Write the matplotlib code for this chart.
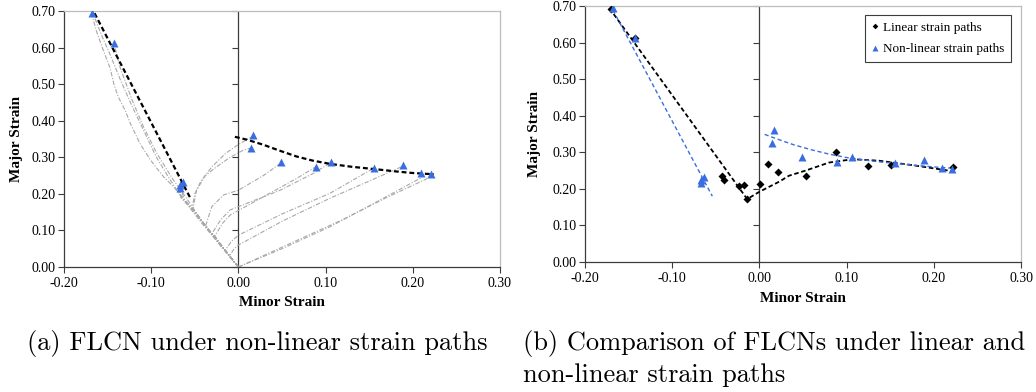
import matplotlib
matplotlib.use("Agg")
import matplotlib.pyplot as plt
import numpy as np

plt.rcParams['axes.unicode_minus'] = False

# ---------------- data ----------------
x_ticks = [-0.20, -0.10, 0.00, 0.10, 0.20, 0.30]
x_tick_labels = ['-0.20', '-0.10', '0.00', '0.10', '0.20', '0.30']
y_ticks = [0.00, 0.10, 0.20, 0.30, 0.40, 0.50, 0.60, 0.70]
y_tick_labels = ['0.00', '0.10', '0.20', '0.30', '0.40', '0.50', '0.60', '0.70']

# non-linear strain path limit strains (blue triangles)
nonlin_minor = [-0.168, -0.143, -0.064, -0.067, -0.067, 0.017, 0.014, 0.049, 0.089, 0.106, 0.155, 0.189, 0.209, 0.221]
nonlin_major = [0.694, 0.613, 0.233, 0.224, 0.217, 0.361, 0.325, 0.286, 0.274, 0.288, 0.272, 0.279, 0.258, 0.254]

# linear strain path limit strains (black diamonds)
lin_minor = [-0.170, -0.143, -0.043, -0.041, -0.023, -0.018, -0.014, 0.001, 0.0095, 0.021, 0.053, 0.088, 0.124, 0.151, 0.222]
lin_major = [0.692, 0.613, 0.235, 0.225, 0.208, 0.210, 0.171, 0.213, 0.267, 0.247, 0.235, 0.300, 0.263, 0.265, 0.261]

# FLC fit lines, panel (a)
flc_a_left_x = [-0.165, -0.055]
flc_a_left_y = [0.694, 0.188]
flc_a_right_x = [-0.004, 0.010, 0.029, 0.045, 0.067, 0.085, 0.105, 0.130, 0.155, 0.182, 0.200, 0.224]
flc_a_right_y = [0.356, 0.348, 0.334, 0.320, 0.302, 0.291, 0.282, 0.274, 0.268, 0.261, 0.257, 0.2535]

# FLC fit lines, panel (b)
flc_lin_x = [-0.172, -0.014, 0.000, 0.023, 0.034, 0.053, 0.080, 0.107, 0.137, 0.175, 0.225]
flc_lin_y = [0.694, 0.172, 0.192, 0.220, 0.236, 0.250, 0.272, 0.281, 0.277, 0.265, 0.247]
flc_nonlin_left_x = [-0.168, -0.054]
flc_nonlin_left_y = [0.689, 0.180]
flc_nonlin_right_x = [0.006, 0.023, 0.040, 0.061, 0.080, 0.099, 0.120, 0.137, 0.155, 0.175, 0.200, 0.223]
flc_nonlin_right_y = [0.349, 0.334, 0.320, 0.306, 0.295, 0.286, 0.279, 0.274, 0.270, 0.265, 0.260, 0.256]

# measured strain paths (grey dash-dot), panel (a)
path1_x = [0, -0.020, -0.040, -0.055, -0.0746, -0.086, -0.101, -0.113, -0.124, -0.130, -0.138, -0.143, -0.147, -0.155, -0.1625, -0.168]
path1_y = [0, 0.058, 0.118, 0.165, 0.220, 0.247, 0.293, 0.338, 0.393, 0.429, 0.466, 0.502, 0.543, 0.593, 0.643, 0.689]
path2_x = [0, -0.020, -0.040, -0.050, -0.065, -0.080, -0.094, -0.108, -0.122, -0.135, -0.147, -0.158, -0.166]
path2_y = [0, 0.060, 0.120, 0.150, 0.190, 0.245, 0.300, 0.370, 0.440, 0.510, 0.580, 0.640, 0.689]
path3_x = [0, -0.020, -0.040, -0.060, -0.0746, -0.0936, -0.109, -0.122, -0.136, -0.143]
path3_y = [0, 0.060, 0.118, 0.190, 0.238, 0.311, 0.384, 0.457, 0.548, 0.613]
path4_x = [0, -0.020, -0.040, -0.055, -0.062, -0.065, -0.064]
path4_y = [0, 0.060, 0.120, 0.165, 0.185, 0.205, 0.233]
path5_x = [0, -0.020, -0.040, -0.058, -0.066, -0.067]
path5_y = [0, 0.058, 0.118, 0.170, 0.190, 0.224]
path6_x = [0, -0.021, -0.042, -0.060, -0.068, -0.067]
path6_y = [0, 0.060, 0.120, 0.175, 0.200, 0.217]
path7_x = [0, -0.020, -0.040, -0.052, -0.048, -0.038, -0.025, -0.0095, 0.006, 0.014]
path7_y = [0, 0.060, 0.120, 0.160, 0.210, 0.250, 0.274, 0.300, 0.320, 0.325]
path8_x = [0, -0.020, -0.040, -0.053, -0.050, -0.043, -0.030, -0.015, 0.000, 0.017]
path8_y = [0, 0.060, 0.120, 0.163, 0.200, 0.235, 0.275, 0.310, 0.335, 0.358]
path9_x = [0, -0.020, -0.038, -0.0305, -0.017, 0.000, 0.0287, 0.048]
path9_y = [0, 0.058, 0.110, 0.165, 0.197, 0.210, 0.250, 0.283]
path10_x = [0, -0.015, -0.027, -0.018, -0.0095, 0.0287, 0.067, 0.088]
path10_y = [0, 0.045, 0.085, 0.120, 0.142, 0.192, 0.2425, 0.273]
path11_x = [0, -0.020, -0.030, -0.020, -0.0095, 0.048, 0.086, 0.105]
path11_y = [0, 0.060, 0.093, 0.130, 0.156, 0.210, 0.256, 0.284]
path12_x = [0, -0.015, -0.008, 0.000, 0.050, 0.105, 0.155]
path12_y = [0, 0.046, 0.070, 0.087, 0.145, 0.2015, 0.270]
path13_x = [0, -0.010, -0.005, 0.000, 0.050, 0.105, 0.150, 0.188]
path13_y = [0, 0.030, 0.050, 0.060, 0.125, 0.188, 0.235, 0.275]
path14_x = [0, 0.050, 0.105, 0.160, 0.2085, 0.209]
path14_y = [0, 0.050, 0.110, 0.180, 0.2425, 0.255]
path15_x = [0, 0.060, 0.120, 0.170, 0.215, 0.221]
path15_y = [0, 0.065, 0.130, 0.190, 0.240, 0.252]

paths_x = [path1_x, path2_x, path3_x, path4_x, path5_x, path6_x, path7_x, path8_x,
           path9_x, path10_x, path11_x, path12_x, path13_x, path14_x, path15_x]
paths_y = [path1_y, path2_y, path3_y, path4_y, path5_y, path6_y, path7_y, path8_y,
           path9_y, path10_y, path11_y, path12_y, path13_y, path14_y, path15_y]

caption_a = "(a) FLCN under non-linear strain paths"
caption_b1 = "(b) Comparison of FLCNs under linear and"
caption_b2 = "non-linear strain paths"

# ---------------- style ----------------
SERIF = ['Liberation Serif', 'DejaVu Serif']
CM = ['cmr10', 'DejaVu Serif']
BLUE = '#3a6ee0'
GREY_PATH = '#a8a8a8'
DARK = '#3c3c3c'
LIGHT = '#bdbdbd'

W, H = 1036, 392
fig = plt.figure(figsize=(W / 100, H / 100), dpi=100)
ax1 = fig.add_axes([64 / W, 1 - 267 / H, (500 - 64) / W, (267 - 11) / H])
ax2 = fig.add_axes([585 / W, 1 - 262 / H, (1021 - 585) / W, (262 - 6) / H])


def style_axes(ax, ylab_x, xlab_y):
    ax.set_xlim(-0.20, 0.30)
    ax.set_ylim(0.0, 0.70)
    ax.set_xticks(x_ticks)
    ax.set_xticklabels(x_tick_labels, family=SERIF, fontsize=10)
    ax.set_yticks(y_ticks)
    ax.set_yticklabels(y_tick_labels, family=SERIF, fontsize=10)
    ax.tick_params(axis='both', direction='out', length=4, width=0.8, color=DARK, pad=2)
    ax.tick_params(axis='x', pad=3)
    for s in ['left', 'bottom']:
        ax.spines[s].set_color(DARK)
        ax.spines[s].set_linewidth(0.9)
    for s in ['top', 'right']:
        ax.spines[s].set_color(LIGHT)
        ax.spines[s].set_linewidth(0.9)
    ax.axvline(0, color=DARK, lw=0.9, zorder=1)
    ax.plot(np.zeros(len(y_ticks)), y_ticks, ls='none', marker=0, ms=4, mew=0.8,
            color=DARK, zorder=1, clip_on=False)
    ax.set_xlabel('Minor Strain', family=SERIF, fontsize=11, fontweight='bold')
    ax.set_ylabel('Major Strain', family=SERIF, fontsize=11, fontweight='bold')
    ax.xaxis.set_label_coords(0.5, xlab_y)
    ax.yaxis.set_label_coords(ylab_x, 0.5)


style_axes(ax1, -0.094, -0.112)
style_axes(ax2, -0.101, -0.118)

# ---- panel (a) ----
for px, py in zip(paths_x, paths_y):
    ax1.plot(px, py, color=GREY_PATH, lw=0.8, ls=(0, (4, 1.5, 1, 1.5)), zorder=2)
ax1.plot(flc_a_left_x, flc_a_left_y, color='black', lw=1.6, ls=(0, (2.2, 1.3)), zorder=3)
ax1.plot(flc_a_right_x, flc_a_right_y, color='black', lw=1.6, ls=(0, (2.2, 1.3)), zorder=3)
ax1.plot(nonlin_minor, nonlin_major, ls='none', marker='^', ms=5.5, color=BLUE, mec='none', zorder=4)

# ---- panel (b) ----
ax2.plot(flc_lin_x, flc_lin_y, color='black', lw=1.3, ls=(0, (2.5, 1.5)), zorder=3)
ax2.plot(flc_nonlin_left_x, flc_nonlin_left_y, color=BLUE, lw=1.0, ls=(0, (3, 2)), zorder=3)
ax2.plot(flc_nonlin_right_x, flc_nonlin_right_y, color=BLUE, lw=1.0, ls=(0, (3, 2)), zorder=3)
h_lin, = ax2.plot(lin_minor, lin_major, ls='none', marker='D', ms=3.6, color='black',
                  mec='none', zorder=4, label='Linear strain paths')
h_non, = ax2.plot(nonlin_minor, nonlin_major, ls='none', marker='^', ms=5.5, color=BLUE,
                  mec='none', zorder=5, label='Non-linear strain paths')
leg = ax2.legend(handles=[h_lin, h_non], loc='upper right', bbox_to_anchor=(0.977, 0.965),
                 prop={'family': SERIF, 'size': 9.5}, frameon=True, fancybox=False,
                 edgecolor=DARK, framealpha=1, borderpad=0.5, labelspacing=0.7,
                 handlelength=0.5, handletextpad=0.35, borderaxespad=0, markerscale=0.8)
leg.get_frame().set_linewidth(0.8)

# ---- captions ----
fig.text(27 / W, 1 - 350 / H, caption_a, family=CM, fontsize=19, ha='left', va='baseline')
fig.text(523 / W, 1 - 350 / H, caption_b1, family=CM, fontsize=19, ha='left', va='baseline')
fig.text(523 / W, 1 - 382 / H, caption_b2, family=CM, fontsize=19, ha='left', va='baseline')

fig.savefig('out.png', dpi=100)
